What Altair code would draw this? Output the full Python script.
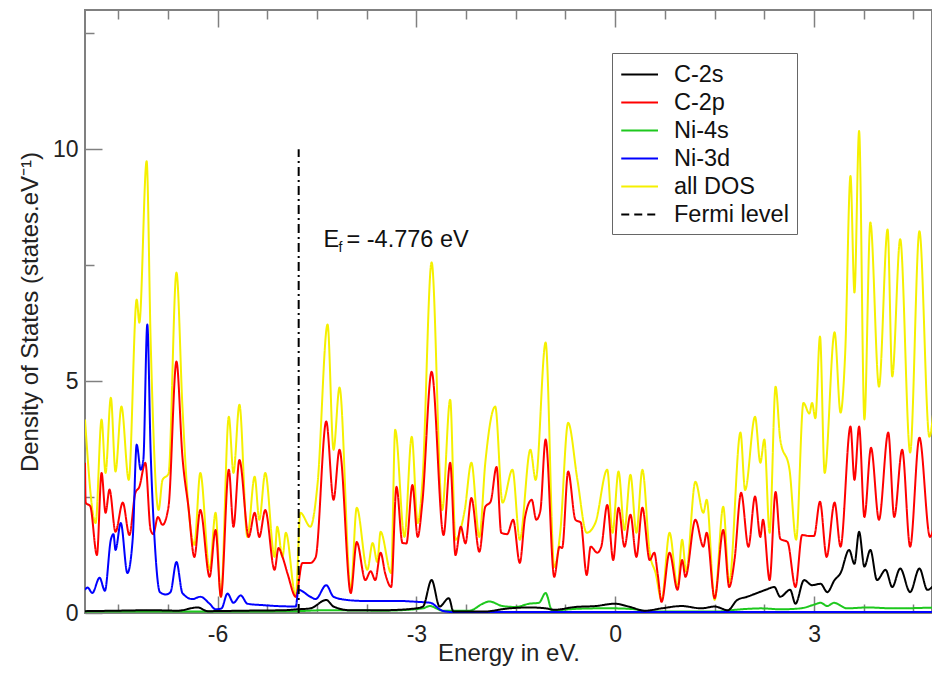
import altair as alt
import pandas as pd

FONT = "Liberation Sans"

SERIES = ["C-2s", "C-2p", "Ni-4s", "Ni-3d", "all DOS", "Fermi level"]
COLORS = ["#000000", "#ff0000", "#1ec81e", "#0000ff", "#f5f000", "#000000"]
DASHES = [[1, 0], [1, 0], [1, 0], [1, 0], [1, 0], [8, 5]]

# ---- all DOS (yellow) ----
all_x = [-8.0, -7.84, -7.75, -7.69, -7.61, -7.54, -7.45, -7.34, -7.22, -7.18, -7.07, -7.01,
         -6.89, -6.83, -6.74, -6.62, -6.53, -6.44, -6.35, -6.26, -6.12, -6.03, -5.95, -5.83,
         -5.76, -5.67, -5.55, -5.44, -5.37, -5.28, -5.14, -5.10, -5.02, -4.97, -4.82, -4.75,
         -4.60, -4.49, -4.34, -4.25, -4.16, -3.99, -3.90, -3.74, -3.66, -3.59, -3.54, -3.38,
         -3.32, -3.18, -3.07, -2.98, -2.91, -2.77, -2.61, -2.49, -2.41, -2.27, -2.17, -2.05,
         -1.96, -1.81, -1.70, -1.55, -1.44, -1.28, -1.20, -1.05, -0.92, -0.83, -0.71, -0.57,
         -0.43, -0.30, -0.12, -0.04, 0.05, 0.14, 0.23, 0.32, 0.41, 0.52, 0.61, 0.70, 0.82,
         0.94, 1.01, 1.07, 1.21, 1.33, 1.38, 1.50, 1.63, 1.72, 1.89, 1.96, 2.11, 2.19, 2.25,
         2.33, 2.42, 2.49, 2.63, 2.73, 2.84, 2.93, 2.97, 3.02, 3.09, 3.16, 3.31, 3.40, 3.47,
         3.55, 3.61, 3.68, 3.76, 3.85, 3.98, 4.11, 4.18, 4.30, 4.45, 4.59, 4.74, 4.86]
all_y = [4.17, 1.94, 4.17, 3.02, 4.64, 3.05, 4.45, 2.87, 6.76, 6.26, 9.74, 5.90,
         2.22, 2.87, 3.00, 7.34, 4.45, 2.29, 1.47, 3.02, 0.93, 2.16, 0.35, 4.23,
         3.02, 4.49, 1.64, 2.94, 2.01, 3.02, 1.21, 1.86, 1.21, 1.73, 0.35, 2.16,
         1.86, 2.80, 6.22, 3.52, 4.86, 0.50, 2.27, 0.93, 1.51, 1.10, 1.75, 0.86,
         3.95, 1.64, 3.80, 1.94, 2.80, 7.56, 2.22, 4.60, 1.58, 2.22, 3.24, 1.64,
         3.24, 4.45, 2.38, 3.09, 1.58, 3.52, 2.87, 5.83, 0.99, 1.73, 4.10, 2.87,
         1.73, 1.94, 3.09, 1.73, 3.05, 1.79, 2.98, 1.73, 3.09, 1.30, 0.86, 0.28, 1.73,
         0.56, 1.58, 0.90, 2.83, 2.16, 2.44, 0.28, 2.29, 0.65, 3.89, 2.65, 4.23, 3.24, 3.74,
         1.73, 4.88, 3.74, 3.09, 1.58, 4.53, 4.30, 4.53, 4.20, 5.96, 3.02, 6.05, 4.32, 5.60,
         9.42, 6.91, 10.39, 4.17, 8.42, 4.88, 8.27, 5.10, 8.06, 3.46, 8.23, 3.80, 5.60]

# ---- C-2p (red) ----
c2p_x = [-8.0, -7.99, -7.92, -7.82, -7.75, -7.69, -7.63, -7.54, -7.43, -7.33, -7.24, -7.18,
         -7.09, -7.01, -6.97, -6.90, -6.83, -6.74, -6.62, -6.53, -6.44, -6.35, -6.26, -6.12,
         -6.03, -5.95, -5.83, -5.76, -5.67, -5.53, -5.44, -5.37, -5.28, -5.14, -5.08, -5.02,
         -4.94, -4.82, -4.72, -4.60, -4.52, -4.36, -4.25, -4.16, -3.99, -3.90, -3.77, -3.69,
         -3.62, -3.54, -3.47, -3.38, -3.30, -3.21, -3.15, -3.06, -2.98, -2.91, -2.77, -2.59,
         -2.49, -2.41, -2.33, -2.26, -2.17, -2.05, -1.96, -1.88, -1.79, -1.72, -1.63, -1.54,
         -1.44, -1.36, -1.26, -1.19, -1.13, -1.05, -0.92, -0.84, -0.80, -0.71, -0.60, -0.52,
         -0.43, -0.37, -0.27, -0.21, -0.12, -0.03, 0.05, 0.14, 0.23, 0.32, 0.41, 0.52, 0.59,
         0.64, 0.70, 0.82, 0.94, 1.01, 1.06, 1.21, 1.33, 1.38, 1.50, 1.63, 1.72, 1.80, 1.90,
         2.01, 2.11, 2.19, 2.23, 2.33, 2.42, 2.49, 2.60, 2.72, 2.82, 2.93, 3.00, 3.09, 3.19,
         3.31, 3.40, 3.55, 3.61, 3.68, 3.76, 3.86, 3.98, 4.12, 4.21, 4.33, 4.45, 4.59, 4.75, 4.86]
c2p_y = [3.24, 2.38, 2.30, 1.25, 3.02, 2.16, 2.66, 1.75, 2.38, 1.68, 2.59, 2.72,
         3.24, 1.79, 1.70, 2.07, 1.90, 2.29, 5.42, 3.37, 2.29, 1.21, 2.22, 0.78,
         1.79, 0.35, 3.09, 1.86, 3.30, 1.64, 2.16, 1.64, 2.22, 0.93, 1.40, 1.21,
         0.83, 0.35, 1.08, 1.08, 1.20, 4.13, 2.44, 3.52, 0.43, 1.53, 0.71, 0.90,
         0.71, 1.30, 0.85, 0.56, 2.72, 1.51, 1.50, 2.76, 1.64, 2.38, 5.20, 1.68,
         3.24, 1.25, 1.86, 1.50, 2.48, 1.32, 2.29, 2.40, 3.15, 1.73, 1.70, 2.01,
         1.08, 2.07, 2.44, 2.01, 2.20, 3.74, 0.78, 1.43, 1.40, 3.05, 2.01, 1.95,
         0.82, 1.43, 1.30, 1.43, 2.33, 1.14, 2.27, 1.43, 2.12, 1.21, 2.27, 1.14, 1.30,
         0.85, 0.24, 1.30, 0.50, 1.14, 0.78, 2.01, 1.43, 1.73, 0.32, 1.79, 0.56, 1.14, 2.59,
         1.43, 2.51, 1.64, 2.01, 0.71, 2.61, 1.60, 1.53, 0.56, 1.68, 1.66, 1.66, 2.40, 1.21,
         2.38, 1.43, 4.02, 2.87, 4.02, 2.07, 3.56, 2.01, 3.89, 2.07, 3.52, 1.43, 3.78, 1.64, 2.38]

# ---- Ni-3d (blue) ----
ni3d_x = [-8.0, -7.96, -7.89, -7.78, -7.70, -7.61, -7.57, -7.54, -7.46, -7.36, -7.28, -7.22,
          -7.16, -7.12, -7.06, -7.01, -6.95, -6.87, -6.78, -6.71, -6.62, -6.53, -6.38, -6.26,
          -6.12, -6.03, -5.94, -5.85, -5.76, -5.65, -5.55, -5.32, -5.10, -4.82, -4.78, -4.60,
          -4.52, -4.36, -4.25, -4.04, -3.80, -3.29, -2.98, -2.79, -2.61, -2.46, -1.5, 0.0,
          1.5, 3.0, 4.86]
ni3d_y = [0.50, 0.55, 0.43, 0.76, 0.48, 1.58, 1.70, 1.36, 1.94, 0.86, 1.60, 3.63,
          3.09, 3.30, 6.22, 3.50, 1.58, 0.45, 0.40, 0.45, 1.10, 0.43, 0.30, 0.35,
          0.20, 0.08, 0.10, 0.42, 0.22, 0.38, 0.20, 0.17, 0.15, 0.14, 0.50, 0.35,
          0.30, 0.60, 0.35, 0.28, 0.26, 0.26, 0.24, 0.22, 0.05, 0.02, 0.02, 0.02,
          0.02, 0.02, 0.02]

# ---- C-2s (black) ----
c2s_x = [-8.0, -7.5, -7.0, -6.6, -6.3, -6.15, -5.6, -5.0, -4.79, -4.6, -4.36, -4.25, -4.0,
         -3.5, -3.0, -2.9, -2.77, -2.65, -2.51, -2.44, -2.0, -1.6, -1.3, -1.05, -0.92, -0.6,
         -0.3, 0.0, 0.2, 0.45, 0.7, 1.0, 1.3, 1.5, 1.7, 1.84, 1.99, 2.14, 2.27, 2.40, 2.49,
         2.64, 2.72, 2.85, 2.97, 3.10, 3.20, 3.31, 3.40, 3.53, 3.61, 3.68, 3.76, 3.85, 3.95,
         4.08, 4.18, 4.30, 4.45, 4.59, 4.71, 4.86]
c2s_y = [0.04, 0.05, 0.06, 0.05, 0.12, 0.04, 0.05, 0.06, 0.08, 0.10, 0.28, 0.14, 0.06,
         0.06, 0.10, 0.14, 0.71, 0.14, 0.32, 0.03, 0.03, 0.10, 0.12, 0.10, 0.07, 0.13,
         0.15, 0.20, 0.14, 0.05, 0.10, 0.15, 0.10, 0.14, 0.06, 0.28, 0.35, 0.43, 0.50, 0.56, 0.35,
         0.50, 0.20, 0.71, 0.60, 0.63, 0.45, 0.71, 0.86, 1.36, 1.06, 1.75, 1.00, 1.36, 0.71,
         0.93, 0.56, 0.96, 0.45, 0.96, 0.50, 0.71]

# ---- Ni-4s (green) ----
ni4s_x = [-8.0, -6.0, -4.8, -4.4, -3.5, -2.9, -2.8, -2.6, -2.2, -2.0, -1.9, -1.7, -1.5,
          -1.3, -1.15, -1.05, -0.95, -0.7, -0.3, 0.0, 0.3, 0.5, 1.0, 1.5, 1.9, 2.2, 2.5,
          2.8, 3.0, 3.1, 3.2, 3.3, 3.5, 3.8, 4.2, 4.86]
ni4s_y = [0.03, 0.03, 0.04, 0.06, 0.05, 0.10, 0.15, 0.05, 0.05, 0.20, 0.25, 0.15, 0.13,
          0.20, 0.22, 0.43, 0.05, 0.08, 0.10, 0.10, 0.08, 0.03, 0.03, 0.03, 0.08, 0.10, 0.08,
          0.10, 0.18, 0.22, 0.15, 0.22, 0.10, 0.12, 0.10, 0.12]

FERMI_E = [-4.776]
FERMI_TOP = [10.0]
FERMI_LABEL_POS = (-4.416, 7.89)

X_MAJOR = [-6, -3, 0, 3]
X_MINOR = [-7.5, -6.75, -5.25, -4.5, -3.75, -2.25, -1.5, -0.75, 0.75, 1.5, 2.25, 3.75, 4.5]
Y_MAJOR = [0, 5, 10]
Y_MINOR = [2.5, 7.5, 12.5]
X_DOMAIN = [-8.0, 4.78]
Y_DOMAIN = [0, 13]

frames = []
for name, xs, ys in [("all DOS", all_x, all_y), ("C-2p", c2p_x, c2p_y), ("Ni-3d", ni3d_x, ni3d_y),
                     ("Ni-4s", ni4s_x, ni4s_y), ("C-2s", c2s_x, c2s_y)]:
    frames.append(pd.DataFrame({"E": xs, "dos": ys, "series": name}))
df = pd.concat(frames, ignore_index=True)

fermi_df = pd.DataFrame({"E": FERMI_E, "bottom": [0.0], "top": FERMI_TOP})
label_df = pd.DataFrame({"E": [FERMI_LABEL_POS[0]], "dos": [FERMI_LABEL_POS[1]]})

xscale = alt.Scale(domain=X_DOMAIN, nice=False, zero=False)
yscale = alt.Scale(domain=Y_DOMAIN, nice=False, zero=False)
TICK = "#808080"


def axis(orient, values, size, labels=False, title=None, lpad=10, tpad=6, tsize=24):
    kw = dict(orient=orient, values=values, tickSize=size, offset=-size, domain=False,
              grid=False, labels=labels, ticks=True, tickColor=TICK, tickWidth=1.5)
    if labels:
        kw.update(labelFont=FONT, labelFontSize=23, labelColor="#222222",
                  labelPadding=lpad, labelExpr="'' + datum.value")
    if title:
        kw.update(title=title, titleFont=FONT, titleFontSize=tsize, titleFontWeight="normal",
                  titleColor="#222222", titlePadding=tpad)
    else:
        kw["title"] = None
    return alt.Axis(**kw)


legend = alt.Legend(title=None, orient="none", legendX=527, legendY=43,
                    symbolType="M-1,0H2", symbolSize=600, symbolStrokeWidth=2,
                    labelFont=FONT, labelFontSize=23.5, labelColor="#111111",
                    labelOffset=27, strokeColor="#666666", fillColor="white",
                    padding=8, rowPadding=3)
color_enc = alt.Color("series:N", scale=alt.Scale(domain=SERIES, range=COLORS), legend=legend)
dash_enc = alt.StrokeDash("series:N", scale=alt.Scale(domain=SERIES, range=DASHES), legend=legend)

axes_plan = {
    "all DOS": (axis("bottom", X_MAJOR, 17, labels=True, title="Energy in eV.", lpad=10, tpad=-5, tsize=24),
                axis("left", Y_MAJOR, 17, labels=True, title="Density of States (states.eV⁻¹)", lpad=7, tpad=10)),
    "C-2p": (axis("bottom", X_MINOR, 9), axis("left", Y_MINOR, 9)),
    "Ni-3d": (axis("top", X_MAJOR, 17), None),
    "Ni-4s": (axis("top", X_MINOR, 9), None),
    "C-2s": (None, None),
}

layers = []
for name in ["all DOS", "C-2p", "Ni-4s", "Ni-3d", "C-2s"]:
    xa, ya = axes_plan[name]
    layers.append(
        alt.Chart(df).transform_filter(alt.datum.series == name)
        .mark_line(strokeWidth=2, interpolate="monotone", clip=True)
        .encode(
            x=alt.X("E:Q", scale=xscale, axis=xa),
            y=alt.Y("dos:Q", scale=yscale, axis=ya),
            color=color_enc,
            strokeDash=dash_enc,
        )
    )

fermi = alt.Chart(fermi_df).mark_rule(strokeWidth=2, strokeDash=[9, 4, 2, 4], color="#000000").encode(
    x=alt.X("E:Q", scale=xscale, axis=None),
    y=alt.Y("bottom:Q", scale=yscale, axis=None),
    y2="top:Q",
)

def txt(text, size, dx, dy):
    return alt.Chart(label_df).mark_text(text=text, font=FONT, fontSize=size, align="left",
                                         baseline="alphabetic", dx=dx, dy=dy, color="#111111").encode(
        x=alt.X("E:Q", scale=xscale, axis=None),
        y=alt.Y("dos:Q", scale=yscale, axis=None),
    )

labels = [txt("E", 23.5, 1, 0), txt("f", 14, 16, 5), txt("= -4.776 eV", 23.5, 24, 0)]

chart = alt.layer(*layers, fermi, *labels).resolve_axis(x="independent", y="independent").properties(
    width=847, height=603,
    autosize=alt.AutoSizeParams(type="none"),
    padding={"left": 77, "top": 2, "right": 0, "bottom": 56},
    background="white",
).configure_view(stroke="#808080", strokeWidth=2)

chart.save("out.html", embed_options={"renderer": "svg", "actions": False})
